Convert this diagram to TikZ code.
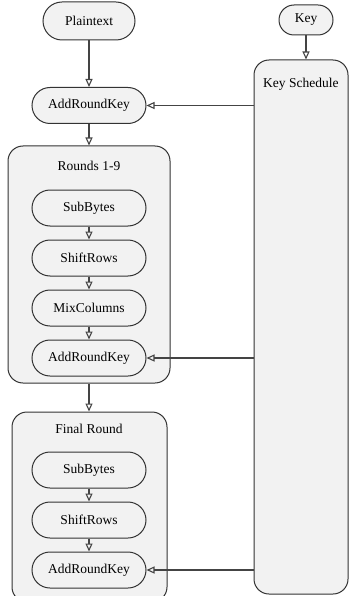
\documentclass[tikz,border=0pt]{standalone}
\usepackage{fontspec}
\setmainfont{Liberation Serif}
\usetikzlibrary{arrows.meta}
\definecolor{boxfill}{HTML}{F2F2F2}
\definecolor{edge}{HTML}{333333}
\definecolor{wire}{HTML}{444444}
\tikzset{
  pill/.style={draw=edge, fill=boxfill, line width=1pt, rounded corners=18pt,
    minimum width=114pt, minimum height=36pt, inner sep=0pt, font=\fontsize{13.5}{15}\selectfont},
  group/.style={draw=edge, fill=boxfill, line width=1pt, rounded corners=15pt, inner sep=0pt},
  title/.style={font=\fontsize{13.5}{15}\selectfont, inner sep=0pt},
  flow/.style={draw=wire, line width=1.1pt, -{Triangle[open, length=8pt, width=7pt]}}
}
\begin{document}
\begin{tikzpicture}[x=1pt,y=-1pt]
\useasboundingbox (0,0) rectangle (349,596);
% groups
\node[group, minimum width=162pt, minimum height=237pt] (rounds) at (89,264.5) {};
\node[group, minimum width=155pt, minimum height=190pt] (final) at (89.5,507) {};
\node[group, minimum width=94pt, minimum height=534pt] (ks) at (301,327) {};
\node[title, anchor=west] (kst) at (263,84) {Key Schedule};
\node[title] (rt) at (89,166) {Rounds 1-9};
\node[title] (ft) at (89,429) {Final Round};
% nodes
\node[pill, minimum width=92pt, minimum height=38pt, rounded corners=19pt] (plain) at (89,21) {Plaintext};
\node[pill, minimum width=54pt, minimum height=30pt, rounded corners=15pt] (key) at (306,20) {Key};
\node[pill] (ark0) at (89,105.5) {AddRoundKey};
\node[pill] (sb1) at (89,208) {SubBytes};
\node[pill] (sr1) at (89,258) {ShiftRows};
\node[pill] (mc1) at (89,308) {MixColumns};
\node[pill] (ark1) at (89,358) {AddRoundKey};
\node[pill] (sb2) at (89,470) {SubBytes};
\node[pill] (sr2) at (89,520) {ShiftRows};
\node[pill] (ark2) at (89,570) {AddRoundKey};
% connectors
\draw[flow] (plain) -- (ark0);
\draw[flow] (key) -- (key |- ks.north);
\draw[flow] (ark0) -- (ark0 |- rounds.north);
\draw[flow] (sb1) -- (sr1);
\draw[flow] (sr1) -- (mc1);
\draw[flow] (mc1) -- (ark1);
\draw[flow] (rounds.south) -- (final.north -| rounds.south);
\draw[flow] (sb2) -- (sr2);
\draw[flow] (sr2) -- (ark2);
\draw[flow] (ks.west |- ark0) -- (ark0);
\draw[flow] (ks.west |- ark1) -- (ark1);
\draw[flow] (ks.west |- ark2) -- (ark2);
\end{tikzpicture}
\end{document}
